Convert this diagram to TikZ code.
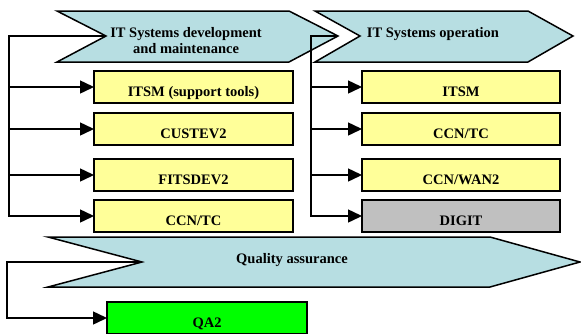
\documentclass[tikz,border=0pt]{standalone}
\usepackage{fontspec}
\setmainfont{Liberation Serif}
\usetikzlibrary{arrows.meta}
\definecolor{chev}{RGB}{183,222,226}
\definecolor{ybox}{RGB}{255,255,153}
\definecolor{gbox}{RGB}{192,192,192}
\definecolor{qbox}{RGB}{0,255,0}
\begin{document}
\begin{tikzpicture}[x=1pt,y=-1pt,line join=miter,
  chevron/.style={draw=black,line width=1.5pt,fill=chev},
  box/.style={draw=black,line width=1.5pt,minimum height=32pt,inner sep=0pt,outer sep=0pt},
  lbox/.style={box,fill=ybox,minimum width=199pt},
  rbox/.style={box,fill=ybox,minimum width=198pt},
  lbl/.style={font=\fontsize{14.5}{16}\selectfont\bfseries,anchor=base,inner sep=0pt},
  conn/.style={line width=1.5pt,-{Triangle[length=14pt,width=13pt]}},
  wire/.style={line width=1.5pt}]
\useasboundingbox (0,0) rectangle (581,333);
% chevrons
\draw[chevron] (57,11) -- (289,11) -- (338,36) -- (289,62) -- (57,62) -- (106,36) -- cycle;
\coordinate (devN) at (106,36);
\coordinate (devT) at (338,36);
\draw[chevron] (315,11) -- (528,11) -- (573,36) -- (528,62) -- (315,62) -- (360,36) -- cycle;
\coordinate (opN) at (360,36);
\draw[chevron] (48,237) -- (490,237) -- (580,262) -- (490,287) -- (48,287) -- (142,262) -- cycle;
\coordinate (qaN) at (142,262);
\node[lbl] (devL1) at (186,37) {IT Systems development};
\node[lbl] (devL2) at (186,53) {and maintenance};
\node[lbl] (opL) at (433,37) {IT Systems operation};
\node[lbl] (qaL) at (292,263) {Quality assurance};
% left boxes
\node[lbox] (b1) at (193.5,87) {};
\node[lbox] (b2) at (193.5,129) {};
\node[lbox] (b3) at (193.5,175) {};
\node[lbox] (b4) at (193.5,216) {};
\node[lbl] (t1) at (193.5,96) {ITSM (support tools)};
\node[lbl] (t2) at (193.5,138) {CUSTEV2};
\node[lbl] (t3) at (193.5,184) {FITSDEV2};
\node[lbl] (t4) at (193.5,225) {CCN/TC};
% right boxes
\node[rbox] (r1) at (461,87) {};
\node[rbox] (r2) at (461,129) {};
\node[rbox] (r3) at (461,175) {};
\node[rbox,fill=gbox] (r4) at (461,216) {};
\node[lbl] (s1) at (461,96) {ITSM};
\node[lbl] (s2) at (461,138) {CCN/TC};
\node[lbl] (s3) at (461,184) {CCN/WAN2};
\node[lbl] (s4) at (461,225) {DIGIT};
% QA2
\node[box,fill=qbox,minimum width=200pt] (q1) at (207,318) {};
\node[lbl] (qt) at (207,327) {QA2};
% connectors
\coordinate (lbus) at (9,36);
\coordinate (rbus) at (311,36);
\coordinate (qbus) at (7,262);
\draw[conn] (devN) -- (lbus) |- (b4.west);
\draw[conn] (lbus |- b1.west) -- (b1.west);
\draw[conn] (lbus |- b2.west) -- (b2.west);
\draw[conn] (lbus |- b3.west) -- (b3.west);
\draw[conn] (devT) -- (rbus) |- (r4.west);
\draw[conn] (rbus |- r1.west) -- (r1.west);
\draw[conn] (rbus |- r2.west) -- (r2.west);
\draw[conn] (rbus |- r3.west) -- (r3.west);
\draw[conn] (qaN) -- (qbus) |- (q1.west);
\end{tikzpicture}
\end{document}
